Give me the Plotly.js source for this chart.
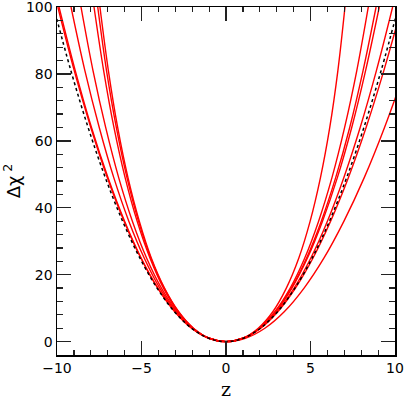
<!DOCTYPE html>
<html>
<head>
<meta charset="utf-8">
<script src="https://cdn.plot.ly/plotly-3.0.1.min.js"></script>
<style>
  html, body { margin: 0; padding: 0; background: #fff; }
  #chart { width: 405px; height: 400px; }
</style>
</head>
<body>
<div id="chart"></div>
<script>
var dchi = [0, 1, 4, 9, 16, 25, 36, 49, 64, 81, 100];

// red curves: z on the negative side and on the positive side, same order as dchi
var left1 = [0, -1.02, -2.03, -3.03, -4.03, -5.02, -6.00, -6.98, -7.96, -8.92, -9.88];
var left2 = [0, -1.02, -2.03, -3.04, -4.04, -5.04, -6.03, -7.02, -8.00, -8.98, -9.95];
var left3 = [0, -1.01, -2.00, -2.97, -3.92, -4.84, -5.75, -6.64, -7.50, -8.35, -9.17];
var left4 = [0, -1.00, -1.98, -2.91, -3.82, -4.70, -5.54, -6.35, -7.12, -7.87, -8.58];
var left5 = [0, -1.00, -1.94, -2.84, -3.70, -4.50, -5.26, -5.97, -6.63, -7.24, -7.81];
var left6 = [0, -0.99, -1.94, -2.83, -3.66, -4.45, -5.18, -5.86, -6.49, -7.07, -7.59];
var left7 = [0, -0.99, -1.93, -2.81, -3.64, -4.42, -5.13, -5.80, -6.41, -6.96, -7.46];

var right1 = [0, 0.99, 1.91, 2.78, 3.57, 4.31, 4.98, 5.59, 6.14, 6.62, 7.04];
var right2 = [0, 1.00, 1.97, 2.90, 3.80, 4.66, 5.48, 6.27, 7.02, 7.74, 8.42];
var right3 = [0, 1.01, 1.99, 2.94, 3.87, 4.77, 5.64, 6.49, 7.32, 8.11, 8.88];
var right4 = [0, 1.01, 1.99, 2.96, 3.90, 4.82, 5.71, 6.59, 7.44, 8.26, 9.07];
var right5 = [0, 1.02, 2.03, 3.03, 4.03, 5.02, 6.00, 6.97, 7.94, 8.90, 9.86];
var right6 = [0, 1.02, 2.05, 3.08, 4.11, 5.15, 6.19, 7.24, 8.29, 9.34, 10.40];
var right7 = [0, 1.14, 2.30, 3.46, 4.62, 5.80, 6.98, 8.18, 9.38, 10.58, 11.80];

// dotted black reference curve
var dotLeft = [0, -1.02, -2.04, -3.06, -4.08, -5.10, -6.12, -7.14, -8.16, -9.18, -10.20];
var dotRight = [0, 1.02, 2.04, 3.06, 4.08, 5.10, 6.12, 7.14, 8.16, 9.18, 10.20];

var xTicks = [-10, -5, 0, 5, 10];
var xTickText = ['\u221210', '\u22125', '0', '5', '10'];
var yTicks = [0, 20, 40, 60, 80, 100];

function makeCurve(zl, zr, color, dash) {
    var x = zl.slice().reverse().concat(zr.slice(1));
    var y = dchi.slice().reverse().concat(dchi.slice(1));
    return {
        x: x,
        y: y,
        type: 'scatter',
        mode: 'lines',
        line: {color: color, width: 1.4, dash: dash, shape: 'spline', smoothing: 1},
        hoverinfo: 'skip',
        showlegend: false
    };
}

var lefts = [left1, left2, left3, left4, left5, left6, left7];
var rights = [right1, right2, right3, right4, right5, right6, right7];

var data = [];
for (var i = 0; i < lefts.length; i++) {
    data.push(makeCurve(lefts[i], rights[i], '#ff0000', 'solid'));
}
var dotted = makeCurve(dotLeft, dotRight, '#000000', 'dot');
dotted.line.width = 1.5;
data.push(dotted);

var axisStyle = {
    showgrid: false,
    zeroline: false,
    showline: true,
    linecolor: '#000',
    linewidth: 1.5,
    mirror: 'ticks',
    ticks: 'inside',
    ticklen: 14,
    tickwidth: 1.3,
    tickcolor: '#222',
    ticklabeloverflow: 'allow',
    tickfont: {family: 'DejaVu Sans', size: 14, color: '#000'}
};

var layout = {
    width: 405,
    height: 400,
    margin: {l: 57, r: 10, t: 7, b: 45},
    paper_bgcolor: '#fff',
    plot_bgcolor: '#fff',
    xaxis: Object.assign({}, axisStyle, {
        range: [-10, 10.0001],
        tickmode: 'array',
        tickvals: xTicks,
        ticktext: xTickText,
        minor: {dtick: 1, ticks: 'inside', ticklen: 5, tickwidth: 1.2, tickcolor: '#222', showgrid: false},
        title: {text: 'z', font: {family: 'DejaVu Serif', size: 19, color: '#000'}, standoff: 9}
    }),
    yaxis: Object.assign({}, axisStyle, {
        range: [-4, 100.0001],
        tickmode: 'array',
        tickvals: yTicks,
        minor: {dtick: 4, tick0: 0, ticks: 'inside', ticklen: 6, tickwidth: 1.2, tickcolor: '#222', showgrid: false},
        title: {text: '\u0394\u03c7<sup> 2</sup>', font: {family: 'DejaVu Sans', size: 18, color: '#000'}, standoff: 6}
    })
};

Plotly.newPlot(document.getElementById('chart'), data, layout, {displayModeBar: false, staticPlot: true});
</script>
</body>
</html>
